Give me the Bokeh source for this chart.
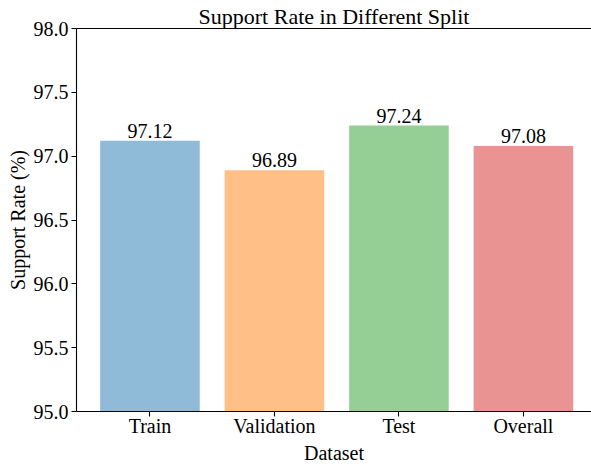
from bokeh.plotting import figure
from bokeh.models import ColumnDataSource, Range1d, FixedTicker, NumeralTickFormatter, LabelSet, LinearAxis
from bokeh.core.properties import value
from bokeh.embed import file_html
from bokeh.resources import INLINE

title_text = "Support Rate in Different Split"
categories = ["Train", "Validation", "Test", "Overall"]
support_rate = [97.12, 96.89, 97.24, 97.08]
bar_labels = ["97.12", "96.89", "97.24", "97.08"]
colors = ["#1f77b4", "#ff7f0e", "#2ca02c", "#d62728"]
y_ticks = [95.0, 95.5, 96.0, 96.5, 97.0, 97.5, 98.0]
y_min, y_max = 95.0, 98.0

FONT = "Liberation Serif"

xs = list(range(len(categories)))
src = ColumnDataSource(dict(x=xs, top=support_rate, color=colors, label=bar_labels))

# the reference picture is cropped on the right, so the visible x-range ends before +0.59
x_lo, x_hi = -0.59, 3.547
p = figure(width=591, height=466, output_backend="svg", toolbar_location=None,
           x_range=Range1d(x_lo, x_hi), y_range=Range1d(y_min, y_max),
           x_axis_location=None, y_axis_location=None,
           min_border_left=76, min_border_right=0, min_border_top=26, min_border_bottom=54)

p.vbar(x="x", top="top", bottom=y_min, width=0.8, source=src, fill_color="color",
       fill_alpha=0.5, line_color=None)

labels = LabelSet(x="x", y="top", text="label", source=src, text_align="center",
                  text_baseline="alphabetic", y_offset=3, text_font=value(FONT),
                  text_font_size="20px", text_color="black")
p.add_layout(labels)

p.xgrid.visible = False
p.ygrid.visible = False
p.outline_line_color = None

x_axis = LinearAxis(ticker=FixedTicker(ticks=xs),
                    major_label_overrides={i: c for i, c in enumerate(categories)},
                    axis_label="Dataset")
y_axis = LinearAxis(ticker=FixedTicker(ticks=y_ticks), formatter=NumeralTickFormatter(format="0.0"),
                    axis_label="Support Rate (%)")
# top spine of the frame, carrying the chart title as its label
top_axis = LinearAxis(ticker=FixedTicker(ticks=[]), axis_line_color="black", axis_line_width=1.1,
                      major_tick_out=0, major_tick_in=0, minor_tick_out=0, minor_tick_in=0,
                      major_label_standoff=0, axis_label=title_text,
                      axis_label_text_font=FONT, axis_label_text_font_size="22px",
                      axis_label_text_font_style="normal", axis_label_text_color="black",
                      axis_label_standoff=0)

for ax in (x_axis, y_axis):
    ax.axis_line_color = "black"
    ax.axis_line_width = 1.1
    ax.major_tick_line_color = "black"
    ax.major_tick_line_width = 1.1
    ax.major_tick_out = 5
    ax.major_tick_in = 0
    ax.minor_tick_out = 0
    ax.minor_tick_in = 0
    ax.major_label_text_font = FONT
    ax.major_label_text_font_size = "20px"
    ax.major_label_text_color = "black"
    ax.axis_label_text_font = FONT
    ax.axis_label_text_font_size = "20px"
    ax.axis_label_text_font_style = "normal"
    ax.axis_label_text_color = "black"

x_axis.major_label_standoff = -2
x_axis.axis_label_standoff = 2
y_axis.major_label_standoff = 3
y_axis.axis_label_standoff = 2

p.add_layout(x_axis, "below")
p.add_layout(y_axis, "left")
p.add_layout(top_axis, "above")

open("out.html", "w").write(file_html(p, INLINE))
